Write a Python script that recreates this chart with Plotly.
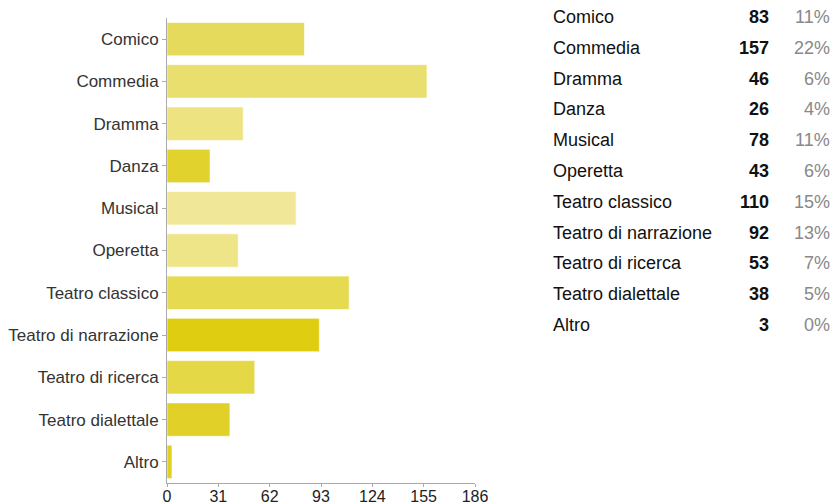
import plotly.graph_objects as go

categories = ["Comico", "Commedia", "Dramma", "Danza", "Musical", "Operetta",
              "Teatro classico", "Teatro di narrazione", "Teatro di ricerca",
              "Teatro dialettale", "Altro"]
values = [83, 157, 46, 26, 78, 43, 110, 92, 53, 38, 3]
percents = ["11%", "22%", "6%", "4%", "11%", "6%", "15%", "13%", "7%", "5%", "0%"]
bar_colors = ["#e6da5c", "#e9df6e", "#ede381", "#e1d22e", "#f0e898", "#eee488",
              "#e6da50", "#dfcd12", "#e5d847", "#e0d027", "#e0d022"]
x_ticks = [0, 31, 62, 93, 124, 155, 186]

W, H = 837, 504
L, R, T, B = 167, 362, 18, 21
pw, ph = W - L - R, H - T - B

def px2paper(px, py):
    return (px - L) / pw, 1 - (py - T) / ph

fig = go.Figure(go.Bar(
    x=values, y=categories, orientation="h",
    marker=dict(color=bar_colors, line=dict(color="rgba(255,255,255,0.6)", width=1)),
    hoverinfo="x+y",
))

fig.update_layout(
    width=W, height=H,
    margin=dict(l=L, r=R, t=T, b=B),
    paper_bgcolor="white", plot_bgcolor="white",
    font=dict(family="Liberation Sans, Arial, sans-serif", color="#222"),
    bargap=0.21,
    showlegend=False,
    xaxis=dict(range=[0, 186], tickvals=x_ticks, showgrid=False, zeroline=False,
               showline=True, linecolor="#aaa", linewidth=1, automargin=False,
               ticks="outside", ticklen=3, tickcolor="#aaa", ticklabelstandoff=-4,
               tickfont=dict(size=16, color="#222")),
    yaxis=dict(autorange="reversed", showgrid=False, zeroline=False,
               showline=True, linecolor="#aaa", linewidth=1, automargin=False,
               ticks="outside", ticklen=4, tickcolor="#aaa",
               tickfont=dict(size=17, color="#333")),
)

row_y0, row_dy = 17, 30.8
for i, (c, v, p) in enumerate(zip(categories, values, percents)):
    py = row_y0 + i * row_dy
    x1, y1 = px2paper(551, py)
    fig.add_annotation(x=x1, y=y1, xref="paper", yref="paper", text=c,
                       showarrow=False, xanchor="left", yanchor="middle",
                       font=dict(size=18, color="#111"))
    x2, _ = px2paper(771, py)
    fig.add_annotation(x=x2, y=y1, xref="paper", yref="paper", text=f"<b>{v}</b>",
                       showarrow=False, xanchor="right", yanchor="middle",
                       font=dict(size=18, color="#111"))
    x3, _ = px2paper(832, py)
    fig.add_annotation(x=x3, y=y1, xref="paper", yref="paper", text=p,
                       showarrow=False, xanchor="right", yanchor="middle",
                       font=dict(size=18, color="#888"))

fig.write_html("out.html")
